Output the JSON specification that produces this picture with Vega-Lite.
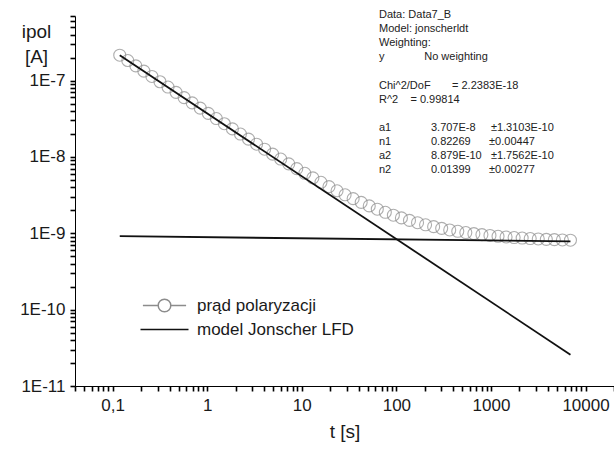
{
  "$schema": "https://vega.github.io/schema/vega-lite/v6.json",
  "width": 539,
  "height": 370,
  "autosize": {"type": "none"},
  "padding": {"left": 75, "top": 16, "right": 0, "bottom": 64},
  "background": "white",
  "config": {"view": {"stroke": null}, "font": "Liberation Sans"},
  "datasets": {
    "measured": [
      {"t": 0.1189, "i": 2.147e-7}, {"t": 0.1446, "i": 1.829e-7}, {"t": 0.1759, "i": 1.558e-7},
      {"t": 0.2139, "i": 1.327e-7}, {"t": 0.2602, "i": 1.131e-7}, {"t": 0.3166, "i": 9.639e-8},
      {"t": 0.3851, "i": 8.217e-8}, {"t": 0.4684, "i": 7.007e-8}, {"t": 0.5697, "i": 5.978e-8},
      {"t": 0.693, "i": 5.1e-8}, {"t": 0.8433, "i": 4.354e-8}, {"t": 1.026, "i": 3.719e-8},
      {"t": 1.248, "i": 3.179e-8}, {"t": 1.518, "i": 2.718e-8}, {"t": 1.847, "i": 2.326e-8},
      {"t": 2.246, "i": 1.993e-8}, {"t": 2.733, "i": 1.709e-8}, {"t": 3.324, "i": 1.467e-8},
      {"t": 4.044, "i": 1.261e-8}, {"t": 4.919, "i": 1.086e-8}, {"t": 5.984, "i": 9.374e-9},
      {"t": 7.279, "i": 8.105e-9}, {"t": 8.855, "i": 7.024e-9}, {"t": 10.77, "i": 6.104e-9},
      {"t": 13.1, "i": 5.321e-9}, {"t": 15.94, "i": 4.653e-9}, {"t": 19.39, "i": 4.086e-9},
      {"t": 23.59, "i": 3.602e-9}, {"t": 28.7, "i": 3.19e-9}, {"t": 34.91, "i": 2.839e-9},
      {"t": 42.46, "i": 2.54e-9}, {"t": 51.66, "i": 2.284e-9}, {"t": 62.84, "i": 2.067e-9},
      {"t": 76.44, "i": 1.882e-9}, {"t": 92.98, "i": 1.725e-9}, {"t": 113.1, "i": 1.589e-9},
      {"t": 137.6, "i": 1.474e-9}, {"t": 167.4, "i": 1.376e-9}, {"t": 203.6, "i": 1.292e-9},
      {"t": 247.7, "i": 1.22e-9}, {"t": 301.3, "i": 1.159e-9}, {"t": 366.5, "i": 1.106e-9},
      {"t": 445.9, "i": 1.061e-9}, {"t": 542.4, "i": 1.022e-9}, {"t": 659.8, "i": 9.886e-10},
      {"t": 802.6, "i": 9.602e-10}, {"t": 976.3, "i": 9.357e-10}, {"t": 1188, "i": 9.135e-10},
      {"t": 1445, "i": 8.952e-10}, {"t": 1758, "i": 8.793e-10}, {"t": 2138, "i": 8.655e-10},
      {"t": 2601, "i": 8.535e-10}, {"t": 3164, "i": 8.419e-10}, {"t": 3849, "i": 8.326e-10},
      {"t": 4682, "i": 8.244e-10}, {"t": 5694, "i": 8.172e-10}, {"t": 6928, "i": 8.107e-10}
    ],
    "model": [
      {"component": "a1", "t": 0.1189, "i": 2.138e-7},
      {"component": "a1", "t": 6928, "i": 2.57e-11},
      {"component": "a2", "t": 0.1189, "i": 9.148e-10},
      {"component": "a2", "t": 6928, "i": 7.846e-10}
    ],
    "legend": [
      {"series": "prąd polaryzacji"},
      {"series": "model Jonscher LFD"}
    ],
    "stats": [
      {"line": "Data: Data7_B"},
      {"line": "Model: jonscherldt"},
      {"line": "Weighting:"},
      {"line": "y\u00a0\u00a0\u00a0\u00a0\u00a0\u00a0\u00a0\u00a0\u00a0\u00a0\u00a0\u00a0\u00a0No weighting"},
      {"line": "\u00a0"},
      {"line": "Chi^2/DoF\u00a0\u00a0\u00a0\u00a0\u00a0\u00a0\u00a0= 2.2383E-18"},
      {"line": "R^2\u00a0\u00a0\u00a0\u00a0= 0.99814"},
      {"line": "\u00a0\u00a0"},
      {"line": "a1\u00a0\u00a0\u00a0\u00a0\u00a0\u00a0\u00a0\u00a0\u00a0\u00a0\u00a0\u00a0\u00a03.707E-8\u00a0\u00a0\u00a0\u00a0\u00a0±1.3103E-10"},
      {"line": "n1\u00a0\u00a0\u00a0\u00a0\u00a0\u00a0\u00a0\u00a0\u00a0\u00a0\u00a0\u00a0\u00a00.82269\u00a0\u00a0\u00a0\u00a0\u00a0\u00a0±0.00447"},
      {"line": "a2\u00a0\u00a0\u00a0\u00a0\u00a0\u00a0\u00a0\u00a0\u00a0\u00a0\u00a0\u00a0\u00a08.879E-10\u00a0\u00a0\u00a0±1.7562E-10"},
      {"line": "n2\u00a0\u00a0\u00a0\u00a0\u00a0\u00a0\u00a0\u00a0\u00a0\u00a0\u00a0\u00a0\u00a00.01399\u00a0\u00a0\u00a0\u00a0\u00a0\u00a0±0.00277"}
    ]
  },
  "layer": [
    {
      "data": {"name": "measured"},
      "mark": {"type": "point", "shape": "circle", "filled": false, "size": 144, "stroke": "#8c8c8c", "strokeWidth": 1.1},
      "encoding": {
        "x": {
          "field": "t", "type": "quantitative",
          "scale": {"type": "log", "domain": [0.04, 20000], "nice": false},
          "axis": {
            "values": [0.04, 0.05, 0.06, 0.07, 0.08, 0.09, 0.1, 0.2, 0.3, 0.4, 0.5, 0.6, 0.7, 0.8, 0.9, 1, 2, 3, 4, 5, 6, 7, 8, 9, 10, 20, 30, 40, 50, 60, 70, 80, 90, 100, 200, 300, 400, 500, 600, 700, 800, 900, 1000, 2000, 3000, 4000, 5000, 6000, 7000, 8000, 9000, 10000, 20000],
            "labelExpr": "abs(log(datum.value)/LN10 - round(log(datum.value)/LN10)) < 1e-6 ? (datum.value < 1 ? '0,1' : format(datum.value, 'd')) : ''",
            "tickSize": 5, "tickColor": "#000000", "tickWidth": 1.6,
            "grid": false,
            "domainColor": "#000000",
            "labelFont": "Liberation Sans", "labelFontSize": 17, "labelColor": "#1a1a1a", "labelPadding": 6,
            "title": "t [s]", "titleFont": "Liberation Sans", "titleFontSize": 19, "titleFontWeight": "normal", "titleColor": "#1a1a1a", "titlePadding": 9
          }
        },
        "y": {
          "field": "i", "type": "quantitative",
          "scale": {"type": "log", "domain": [1e-11, 7e-7], "nice": false},
          "axis": {
            "values": [1e-11, 2e-11, 3e-11, 4e-11, 5e-11, 6e-11, 7e-11, 8e-11, 9e-11, 1e-10, 2e-10, 3e-10, 4e-10, 5e-10, 6e-10, 7e-10, 8e-10, 9e-10, 1e-9, 2e-9, 3e-9, 4e-9, 5e-9, 6e-9, 7e-9, 8e-9, 9e-9, 1e-8, 2e-8, 3e-8, 4e-8, 5e-8, 6e-8, 7e-8, 8e-8, 9e-8, 1e-7, 2e-7, 3e-7, 4e-7, 5e-7, 6e-7, 7e-7],
            "labelExpr": "abs(log(datum.value)/LN10 - round(log(datum.value)/LN10)) < 1e-6 ? '1E' + round(log(datum.value)/LN10) : ''",
            "tickSize": 5, "tickColor": "#000000", "tickWidth": 1.6,
            "grid": false,
            "domainColor": "#000000",
            "labelFont": "Liberation Sans", "labelFontSize": 17, "labelColor": "#1a1a1a", "labelPadding": 5,
            "title": ["ipol", "[A]"], "titleAngle": 0, "titleAlign": "center", "titleBaseline": "alphabetic",
            "titleX": -39, "titleY": 21, "titleLineHeight": 25,
            "titleFont": "Liberation Sans", "titleFontSize": 19, "titleFontWeight": "normal", "titleColor": "#1a1a1a"
          }
        }
      }
    },
    {
      "data": {"name": "model"},
      "mark": {"type": "line", "color": "#111111", "strokeWidth": 1.8},
      "encoding": {
        "x": {"field": "t", "type": "quantitative"},
        "y": {"field": "i", "type": "quantitative"},
        "detail": {"field": "component"}
      }
    },
    {
      "data": {"name": "legend"},
      "mark": {"type": "point", "filled": false, "opacity": 0, "size": 144},
      "encoding": {
        "shape": {
          "field": "series", "type": "nominal",
          "scale": {
            "domain": ["prąd polaryzacji", "model Jonscher LFD"],
            "range": ["M-3.6,0L-1.05,0M1.05,0L3.6,0M1.05,0A1.05,1.05,0,1,1,-1.05,0A1.05,1.05,0,1,1,1.05,0", "M-4,0L4,0"]
          },
          "legend": {
            "title": null, "orient": "none", "legendX": 81, "legendY": 281, "direction": "vertical",
            "symbolSize": 144, "symbolOpacity": 1, "symbolFillColor": "transparent",
            "labelOffset": 24, "labelFont": "Liberation Sans", "labelFontSize": 17, "labelColor": "#1a1a1a",
            "rowPadding": 5, "padding": 0,
            "encode": {"symbols": {"update": {"strokeWidth": {"signal": "datum.value === 'model Jonscher LFD' ? 2 : 1.2"}}}}
          }
        },
        "color": {
          "field": "series", "type": "nominal",
          "scale": {"domain": ["prąd polaryzacji", "model Jonscher LFD"], "range": ["#8c8c8c", "#111111"]}
        }
      }
    },
    {
      "data": {"name": "stats"},
      "mark": {"type": "point", "opacity": 0, "size": 1},
      "encoding": {
        "strokeDash": {
          "field": "line", "type": "nominal", "sort": null,
          "legend": {
            "title": null, "orient": "none", "legendX": 293, "legendY": -6.5, "direction": "vertical",
            "symbolSize": 0, "symbolOpacity": 0, "symbolStrokeWidth": 0,
            "labelOffset": 0, "labelFont": "Liberation Sans", "labelFontSize": 11, "labelColor": "#222222",
            "labelLimit": 0, "rowPadding": 2.1, "padding": 0
          }
        }
      }
    }
  ]
}
